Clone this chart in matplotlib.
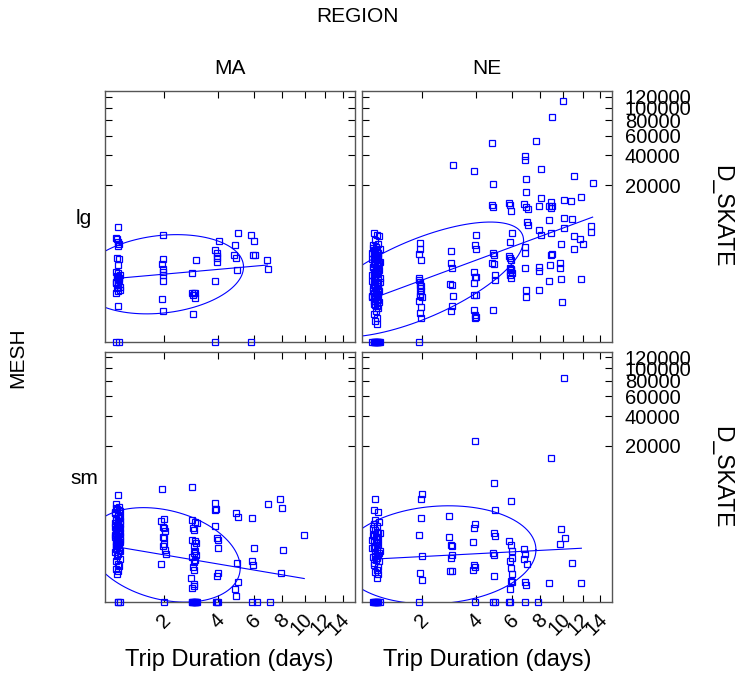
import numpy as np
import matplotlib
matplotlib.use("Agg")
import matplotlib.pyplot as plt
from matplotlib import transforms

plt.rcParams['font.family'] = ['Liberation Sans', 'DejaVu Sans']

# trip duration (days) and D_SKATE (lbs), one pair of lists per panel
ma_lg_days = [0.99, 0.96, 0.97, 0.98, 1.0, 0.99, 0.97, 1.0, 0.98, 0.96, 0.99, 1.01, 0.97, 0.98, 1.0, 0.96,
              0.99, 0.97, 1.01, 0.98, 0.96, 0.99, 0.96, 1.0,
              0.97, 1.0, 0.98, 0.96, 0.99, 1.01,
              1.96, 1.97, 1.95, 1.97, 1.96, 1.98, 1.97, 1.95, 1.97,
              3.05, 2.92, 2.90, 2.96, 3.03, 2.93, 3.0, 2.94,
              4.05, 3.87, 3.94, 3.97, 3.94, 3.94, 3.87, 3.87,
              5.04, 4.87, 4.80, 4.93, 5.0,
              5.79, 6.0, 5.93, 6.07, 5.8,
              6.86, 6.9]
ma_lg_lbs = [5745, 3852, 3650, 3296, 3079, 2757, 1650, 1543, 1144, 801, 726, 658, 597, 538, 483, 388,
             331, 273, 240, 212, 185, 56, 0, 0,
             620, 560, 500, 430, 360, 300,
             4250, 1521, 1187, 925, 770, 658, 452, 113, 31,
             1471, 727, 185, 185, 185, 152, 120, 19.7,
             3428, 2327, 2011, 1812, 1596, 1359, 452, 0,
             4693, 2873, 1862, 1650, 876,
             4360, 3375, 1862, 1862, 0,
             1471, 925]

ne_lg_days = [0.95, 1.0, 1.04, 0.97, 1.02, 0.94, 0.99, 1.05, 0.96, 1.01, 0.93, 0.98, 1.03, 0.95, 1.0, 1.06,
              0.97, 1.02, 0.94, 0.99, 1.04, 0.96, 1.01, 0.93, 0.98, 1.05, 0.95, 1.0, 1.03, 0.97, 1.02, 0.94,
              0.99, 1.04, 0.96, 1.01, 0.93, 0.98, 1.03, 0.95, 1.0, 0.97, 1.02, 0.99, 0.96, 1.01, 0.98, 1.0,
              0.94, 1.0, 0.97, 1.03, 0.95, 0.99, 1.02, 0.93, 0.98, 1.04, 0.96, 1.01, 0.94, 0.99, 1.03, 0.97,
              1.0, 0.95, 1.02, 0.98, 0.93, 1.05, 0.96, 1.0, 0.97, 1.02, 0.94, 0.99, 1.03, 0.96, 0.92, 1.0,
              0.98, 1.04, 0.95, 1.01,
              0.95, 0.98, 1.0, 1.02, 0.97, 1.04, 0.93, 0.96, 0.99, 1.01, 1.03, 1.05,
              9.97, 9.01, 4.82, 7.73, 6.91, 6.91, 3.01, 3.90, 8.07, 11.1, 6.98, 13.1, 4.86, 6.98,
              8.07, 8.92, 9.01, 10.1, 10.75, 11.85, 4.82, 4.88, 5.84, 5.90, 5.94, 6.84, 6.95, 7.07,
              7.93, 8.78, 8.95,
              10.07, 10.88, 8.78, 7.02, 7.07, 12.91, 12.96, 7.91, 8.95, 10.07, 6.0, 8.12,
              11.05, 11.74, 11.99, 9.78, 11.1, 5.90, 6.91, 6.86, 8.92, 9.01, 4.01, 3.95, 4.01,
              1.955, 1.955, 1.928, 2.96, 4.86, 4.91, 5.84, 5.90,
              9.76, 9.76, 9.83, 11.85, 8.80, 7.93, 7.91, 8.78, 6.91, 1.972, 2.94, 2.99, 4.82, 4.91,
              5.965, 5.90, 5.94, 5.965, 5.90, 6.0, 5.90, 5.965, 4.97, 5.01, 3.90, 3.95, 4.01,
              1.909, 1.928, 1.955,
              9.91, 6.93, 6.93, 7.96, 3.93, 3.90, 4.01, 3.90, 3.98, 4.01, 3.95, 2.93, 2.99, 3.01,
              2.99, 2.94, 4.86, 1.936, 1.972, 1.94, 1.983, 1.936, 1.96, 2.0, 1.909, 1.972, 1.936,
              1.983, 1.909]
ne_lg_lbs = [4650, 4360, 4150, 3520, 3080, 2877, 2685, 2503, 2330, 2165, 2011, 1864, 1725, 1596, 1473, 1358,
             1250, 1146, 1051, 961, 880, 799, 730, 659, 596, 538, 484, 434, 388, 346, 308, 273,
             240, 211, 186, 161, 139, 120, 103, 88, 75, 62, 43, 28, 18, 10.6, 5.9, 2.9,
             2600, 2400, 2250, 2080, 1930, 1800, 1650, 1540, 1420, 1300, 1200, 1100, 1010, 920, 840, 760,
             700, 630, 570, 510, 460, 410, 370, 330, 290, 255, 225, 200, 175, 150, 130, 112,
             95, 80, 68, 52,
             0, 0, 0, 0, 0, 0, 0, 0, 0, 0, 0, 0,
             112400, 84630, 51980, 53730, 39480, 36210, 32180, 28270, 29390, 25130, 23570, 20830, 20320, 16520,
             14040, 12550, 11400, 13400, 13160, 14430, 11630, 11070, 12310, 11630, 9730, 11970, 11070, 10340,
             11180, 11400, 10650,
             7740, 7420, 7180, 6800, 6075, 5870, 4808, 5103, 4693, 5542, 4693, 4360,
             4150, 3750, 2997, 2997, 2503, 3292, 2685, 2011, 1864, 1952, 4254, 2877, 2433,
             3205, 2433, 1923, 2230, 2011, 1864, 1781, 1648,
             1292, 996, 516, 505, 1146, 1051, 830, 464, 961, 1473, 1292, 961, 1292, 1207,
             1473, 996, 927, 862, 799, 741, 659, 561, 659, 484, 799, 572, 596,
             561, 484, 434,
             79, 240, 135, 240, 388, 161, 161, 32, 17.9, 11.9, 10.6, 363, 331, 139,
             52, 31, 32, 346, 308, 273, 211, 170, 139, 128, 88, 46, 22.7,
             9.5, 0]

ma_sm_days = [0.99, 0.95, 1.0, 0.97, 1.01, 0.94, 0.98, 1.0, 0.96, 1.02, 0.93, 0.99, 0.97, 1.01, 0.95, 0.98,
              1.0, 0.96, 1.02, 0.94, 0.99, 0.97, 1.01, 0.95, 0.98, 1.0, 0.96, 1.02, 0.93, 0.99, 0.97, 1.01,
              0.95, 0.98, 1.0, 0.96, 0.99, 0.97, 0.98, 1.01,
              0.96, 1.0, 0.94, 0.98, 1.02, 0.95, 0.99, 1.01, 0.97, 0.93, 1.0, 0.96, 0.98, 1.02, 0.94, 0.99,
              0.97, 1.01, 0.95, 1.0, 0.98, 0.96, 0.97, 1.0, 0.98,
              1.95, 1.92, 2.0, 1.97, 2.0, 2.03, 1.98, 2.0, 2.0, 1.98, 2.03, 2.04, 1.92, 2.0,
              2.92, 2.92, 3.0, 3.08, 2.95, 2.96, 2.92, 3.0, 3.07, 2.96, 3.0, 2.98, 3.04, 2.92, 3.02, 2.96,
              2.94, 2.98, 2.86, 2.96, 2.98, 2.92, 2.9, 2.95, 3.0, 3.05, 3.1, 2.92, 2.97, 3.02, 3.07,
              3.87, 3.90, 3.87, 3.87, 3.93, 4.0, 4.0, 4.02, 3.96, 3.96, 3.9, 4.02,
              4.93, 5.01, 4.97, 5.05, 4.85, 4.91,
              5.86, 5.96, 5.86, 5.9, 5.86, 6.2,
              6.93, 7.1,
              7.85, 8.0, 8.1, 7.95,
              9.91]
ma_sm_lbs = [4360, 3166, 2760, 2500, 2300, 2076, 1860, 1700, 1600, 1430, 1340, 1230, 1130, 1035, 960, 880,
             800, 728, 660, 600, 540, 475, 437, 390, 347, 302, 266, 235, 207, 180, 150, 120,
             94, 72, 56, 42, 31, 22, 0, 0,
             2650, 2400, 2180, 1950, 1780, 1520, 1380, 1280, 1180, 1080, 1000, 920, 840, 760, 700, 630,
             570, 510, 455, 410, 370, 325, 285, 250, 0,
             5450, 1430, 1600, 1093, 998, 860, 623, 562, 380, 324, 253, 180, 72, 0,
             5883, 1521, 1407, 1340, 998, 909, 505, 456, 407, 324, 224, 196, 170, 136, 110, 88,
             50, 38, 11.9, 3.8, 2.3, 1.5, 0, 0, 0, 0, 0, 0, 0, 0, 0,
             3296, 2578, 2398, 1130, 562, 505, 287, 25, 15.6, 0, 0, 0,
             2076, 1786, 80, 5.7, 0.9, 0.05,
             1650, 287, 94, 67, 0, 0,
             3166, 0,
             3751, 2655, 240, 25,
             686]

ne_sm_days = [0.97, 0.95, 1.02, 0.98, 1.04, 0.94, 1.0, 1.05, 0.96, 1.01, 0.93, 0.99, 1.03, 0.95, 1.0, 1.06,
              0.97, 1.02, 0.94, 0.99, 1.04, 0.96, 1.01, 0.98, 1.03, 1.0,
              0.95, 1.0, 0.97, 1.03, 0.94, 0.99, 1.02, 0.96, 1.01, 0.98, 0.93, 1.04, 0.97, 1.0, 0.95, 1.02,
              0.96, 0.99, 1.01, 1.03, 0.98, 0.94, 0.97, 1.0, 1.02, 1.05,
              3.95, 8.90, 10.1, 4.95, 2.0, 1.98, 5.96, 5.0, 1.98, 2.86, 3.98, 3.9, 9.78, 10.2, 9.72,
              1.91, 2.86, 4.91, 4.97, 5.84, 5.94, 6.84, 6.86, 6.84, 2.96, 2.99, 3.87, 4.86, 4.95, 2.0,
              2.99, 2.96, 3.9, 3.98, 3.87, 2.93, 2.99, 6.0, 6.03, 5.85, 5.94, 6.03, 10.88, 1.955, 2.0,
              4.94, 7.0, 5.94, 6.03, 6.86, 6.95, 8.73, 11.85, 5.9, 5.9, 1.93, 3.98, 4.86, 5.01, 5.84,
              6.91, 7.88]
ne_sm_lbs = [3852, 2398, 2167, 1520, 1400, 998, 830, 757, 650, 590, 510, 440, 363, 300, 253, 224,
             196, 170, 135, 110, 94, 67, 35, 27, 21, 11.9,
             1250, 1100, 900, 780, 700, 620, 550, 480, 400, 330, 280, 190, 150, 125, 80, 50,
             0, 0, 0, 0, 0, 0, 0, 0, 0, 0,
             22300, 14330, 84300, 6800, 4640, 3852, 3470, 2398, 1704, 1836, 1230, 1030, 960, 562, 390,
             686, 623, 757, 650, 480, 363, 270, 180, 120, 363, 324, 440, 196, 165, 148,
             170, 128, 67, 50, 38, 31, 34, 224, 128, 100, 46, 22, 80, 25, 9,
             15, 74, 6.7, 6, 5.8, 3, 4.8, 4.8, 1.1, 0, 0, 0, 0, 0, 0,
             0, 0]

regions = ["MA", "NE"]
meshes = ["lg", "sm"]
x_ticks = [2, 4, 6, 8, 10, 12, 14]
y_ticks = [20000, 40000, 60000, 80000, 100000, 120000]

# panel order: MA-lg, NE-lg, MA-sm, NE-sm ; all fits on the 4th-root scale
fit_a = [3.207, -3.326, 7.256, 2.343]
fit_b = [1.612, 6.72, -3.072, 0.951]
ell_cu = [1.1788, 1.175, 1.1892, 1.2582]
ell_cv = [5.117, 4.718, 3.603, 3.604]
ell_a = [0.3418, 0.4388, 0.3176, 0.4074]
ell_b = [0.551, 2.980, -0.976, 0.3875]
ell_c = [2.959, 3.190, 3.454, 3.708]

blue = "#0000ff"


def fwd(a):
    a = np.asarray(a, dtype=float)
    return np.sign(a) * np.abs(a) ** 0.25


def inv(a):
    a = np.asarray(a, dtype=float)
    return np.sign(a) * np.abs(a) ** 4


fig = plt.figure(figsize=(7.4, 6.78), dpi=100)
W, H = 740.0, 678.0

col_left = [104.5, 362.2]
row_top = [91.0, 351.7]
pw, ph = 250.0, 250.6

panels = [(ma_lg_days, ma_lg_lbs), (ne_lg_days, ne_lg_lbs),
          (ma_sm_days, ma_sm_lbs), (ne_sm_days, ne_sm_lbs)]

t = np.linspace(0, 2 * np.pi, 120)
for k, (days, lbs) in enumerate(panels):
    r, c = divmod(k, 2)
    ax = fig.add_axes([col_left[c] / W, 1 - (row_top[r] + ph) / H, pw / W, ph / H])
    ax.set_xscale('function', functions=(fwd, inv))
    ax.set_yscale('function', functions=(fwd, inv))

    ax.plot(days, lbs, 's', mfc='none', mec=blue, ms=5.0, mew=0.9, clip_on=False, zorder=3)

    u = fwd(days)
    uu = np.array([u.min(), u.max()])
    ax.plot(inv(uu), inv(fit_a[k] + fit_b[k] * uu), color=blue, lw=0.8)

    eu = ell_cu[k] + ell_a[k] * np.cos(t)
    ev = ell_cv[k] + ell_b[k] * np.cos(t) + ell_c[k] * np.sin(t)
    ax.plot(inv(eu), inv(ev), color=blue, lw=0.8)

    ax.set_xlim(0.78, 15.5)
    ax.set_ylim(0, 131400)
    ax.set_xticks(x_ticks)
    ax.set_yticks(y_ticks)
    ax.minorticks_off()
    ax.set_xticklabels([str(v) for v in x_ticks])
    ax.set_yticklabels([str(v) for v in y_ticks])
    ax.tick_params(direction='in', length=5, width=0.8, color='black',
                   top=True, right=True, bottom=True, left=True,
                   labelbottom=(r == 1), labelleft=False, labelright=(c == 1),
                   labelsize=14.5)
    ax.tick_params(axis='x', pad=10.4)
    ax.tick_params(axis='y', pad=9.2)
    for s in ax.spines.values():
        s.set_color('#555555')
        s.set_linewidth(1.0)
    if r == 1:
        off = transforms.ScaledTranslation(4 / 100, 0, fig.dpi_scale_trans)
        for lab in ax.get_xticklabels():
            lab.set_rotation(45)
            lab.set_ha('right')
            lab.set_va('center')
            lab.set_rotation_mode('anchor')
            lab.set_transform(lab.get_transform() + off)

# outer labels
fig.text(357 / W, 1 - 17 / H, "REGION", ha='center', va='center', fontsize=15)
for c, name in enumerate(regions):
    fig.text((col_left[c] + pw / 2) / W, 1 - 68 / H, name, ha='center', va='center', fontsize=15)
    fig.text((col_left[c] + pw / 2) / W, 1 - 660 / H, "Trip Duration (days)",
             ha='center', va='center', fontsize=17)
for r, name in enumerate(meshes):
    fig.text(84 / W, 1 - (row_top[r] + 127) / H, name, ha='center', va='center', fontsize=15)
    fig.text(722 / W, 1 - (row_top[r] + ph / 2) / H, "D_SKATE", ha='center', va='center',
             rotation=-90, fontsize=16.5)
fig.text(18 / W, 1 - 358 / H, "MESH", ha='center', va='center', rotation=90, fontsize=15)

fig.savefig("out.png", dpi=100)
